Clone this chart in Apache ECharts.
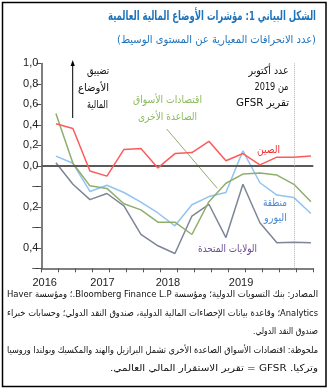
<!DOCTYPE html>
<html>
<head>
<meta charset="utf-8">
<script src="https://cdn.jsdelivr.net/npm/echarts@6/dist/echarts.min.js"></script>
<style>
html,body{margin:0;padding:0;background:#fff;}
#c{width:329px;height:389px;}
</style>
</head>
<body>
<div id="c"></div>
<script>
// Quarterly periods
const periods = ['2016Q1','2016Q2','2016Q3','2016Q4','2017Q1','2017Q2','2017Q3','2017Q4',
                 '2018Q1','2018Q2','2018Q3','2018Q4','2019Q1','2019Q2','2019Q3','2019Q4'];
// Series values (standard deviations from median)
const china    = [0.41, 0.365, -0.05, -0.10, 0.16, 0.17, -0.02, 0.12, 0.13, 0.24, 0.05, 0.12, 0.01, 0.085, 0.085, 0.095];
const otherEM  = [0.51, 0.025, -0.195, -0.22, -0.37, -0.43, -0.55, -0.55, -0.67, -0.35, -0.17, -0.08, -0.07, -0.09, -0.18, -0.35];
const euroArea = [0.095, 0.025, -0.25, -0.19, -0.26, -0.355, -0.46, -0.585, -0.38, -0.30, -0.26, 0.147, -0.165, -0.285, -0.31, -0.465];
const us       = [0.03, -0.18, -0.33, -0.27, -0.39, -0.67, -0.78, -0.855, -0.49, -0.375, -0.70, -0.18, -0.555, -0.75, -0.745, -0.75];
// Axis tick labels (as printed in the source, bottom to top)
const yTickLabels = ['–','0,4','–','0,2','–','0,0','0,2','0,4','0,6','0,8','1,0'];
const yearLabels = ['2016','2017','2018','2019'];
const gfsrPeriod = '2019Q3';

const ARFONT = '"DejaVu Sans", sans-serif';
const NUMFONT = '"Liberation Sans", Arial, sans-serif';
const OFFSET = 0.86;
const xOf = i => i + OFFSET;
const mk = arr => arr.map((v, i) => [xOf(i), v]);
const yearPos = {20: 0, 360: 1, 745: 2, 1175: 3};

const rtl = s => '\u202B' + s + '\u202C';
const mctx = document.createElement('canvas').getContext('2d');

function txt(x, y, text, color, size, align, weight, targetW) {
  const t = rtl(text);
  const font = (weight || 'normal') + ' ' + size + 'px ' + ARFONT;
  let sx = 1;
  if (targetW) {
    mctx.font = font;
    const w = mctx.measureText(t).width;
    if (w > 0) sx = targetW / w;
  }
  return {type: 'text', x: x, y: y, scaleX: sx, scaleY: 1, silent: true,
    style: {text: t, fill: color, font: font, align: align || 'center', verticalAlign: 'middle'}};
}

const chart = echarts.init(document.getElementById('c'), null, {renderer: 'canvas'});

const option = {
  animation: false,
  backgroundColor: '#ffffff',
  grid: {left: 41.3, right: 15.7, top: 63.4, bottom: 120.7, outerBoundsMode: 'none', containLabel: false},
  xAxis: [{
    type: 'value', min: 0, max: 16, interval: 1,
    axisLine: {show: true, onZero: false, lineStyle: {color: '#555', width: 1.5}},
    axisTick: {show: true, length: 4, lineStyle: {color: '#555', width: 1}},
    axisLabel: {show: false},
    splitLine: {show: false}
  }, {
    type: 'value', min: 0, max: 16, interval: 0.05, position: 'bottom',
    axisLine: {show: false, onZero: false}, axisTick: {show: false}, splitLine: {show: false},
    axisLabel: {
      show: true, margin: 9, color: '#222', fontSize: 11, fontFamily: NUMFONT,
      formatter: v => { const k = Math.round(v * 100); return (k in yearPos) ? yearLabels[yearPos[k]] : ''; }
    }
  }],
  yAxis: {
    type: 'value', min: -1, max: 1, interval: 0.2,
    axisLine: {show: true, onZero: false, lineStyle: {color: '#555', width: 1.5}},
    axisTick: {show: true, length: 5, lineStyle: {color: '#555', width: 1}},
    splitLine: {show: false},
    axisLabel: {
      margin: 3, color: '#222', fontSize: 11, fontFamily: NUMFONT,
      formatter: v => yTickLabels[Math.round(v * 5) + 5]
    }
  },
  series: [
    {name: 'الولايات المتحدة', type: 'line', data: mk(us), symbol: 'none',
     lineStyle: {color: '#7d8597', width: 1.5}, z: 2},
    {name: 'منطقة اليورو', type: 'line', data: mk(euroArea), symbol: 'none',
     lineStyle: {color: '#93c3f0', width: 1.5}, z: 3},
    {name: 'اقتصادات الأسواق الصاعدة الأخرى', type: 'line', data: mk(otherEM), symbol: 'none',
     lineStyle: {color: '#8fae6c', width: 1.5}, z: 4},
    {name: 'الصين', type: 'line', data: mk(china), symbol: 'none',
     lineStyle: {color: '#ff5a5a', width: 1.5}, z: 5,
     markLine: {silent: true, symbol: 'none', label: {show: false}, animation: false,
       data: [
         {yAxis: 0, lineStyle: {color: '#5a5a5a', width: 2, type: 'solid'}},
         {xAxis: xOf(periods.indexOf(gfsrPeriod)), lineStyle: {color: '#b0b0b0', width: 1, type: 'dotted'}}
       ]}}
  ],
  graphic: [
    {type: 'rect', shape: {x: 2.5, y: 2.5, width: 323.5, height: 384}, silent: true,
     style: {fill: 'none', stroke: '#000', lineWidth: 1.5}},
    txt(316, 17, 'الشكل البياني 1: مؤشرات الأوضاع المالية العالمية', '#1f73bb', 13, 'right', 'bold', 208),
    txt(316, 40, '(عدد الانحرافات المعيارية عن المستوى الوسيط)', '#1f73bb', 11, 'right', 'normal', 199),
    // arrow annotation
    {type: 'line', shape: {x1: 72.7, y1: 118, x2: 72.7, y2: 64}, silent: true,
     style: {stroke: '#000', lineWidth: 1}},
    {type: 'polygon', shape: {points: [[70.6, 66], [72.7, 60], [74.8, 66]]}, silent: true,
     style: {fill: '#000'}},
    txt(109, 71, 'تضييق', '#111', 10.5, 'right', 'normal', 22),
    txt(109, 88, 'الأوضاع', '#111', 10.5, 'right', 'normal', 31),
    txt(108, 105, 'المالية', '#111', 10.5, 'right', 'normal', 21),
    // GFSR note
    txt(288.5, 71, 'عدد أكتوبر', '#111', 10.5, 'right', 'normal', 40),
    txt(288.5, 87, 'من 2019', '#111', 10.5, 'right', 'normal', 34),
    txt(289, 103, 'تقرير GFSR', '#111', 10.5, 'right', 'normal', 53),
    // series labels
    txt(167.5, 100, 'اقتصادات الأسواق', '#8dba5f', 10.5, 'center', 'normal', 69),
    txt(167.5, 117, 'الصاعدة الأخرى', '#8dba5f', 10.5, 'center', 'normal', 59),
    {type: 'line', shape: {x1: 166.7, y1: 129, x2: 217.3, y2: 188.3}, silent: true,
     style: {stroke: '#8fae6c', lineWidth: 1}},
    txt(268.5, 150, 'الصين', '#ee3030', 10.5, 'center', 'normal', 23),
    txt(275, 203, 'منطقة', '#4a8ad4', 10.5, 'center', 'normal', 24),
    txt(275.5, 218, 'اليورو', '#4a8ad4', 10.5, 'center', 'normal', 23),
    txt(227.5, 249, 'الولايات المتحدة', '#6b4c93', 10.5, 'center', 'normal', 59),
    // footer
    txt(318, 295, 'المصادر: بنك التسويات الدولية؛ ومؤسسة Bloomberg Finance L.P.؛ ومؤسسة Haver', '#111', 9.5, 'right', 'normal', 311),
    txt(318, 313.5, 'Analytics؛ وقاعدة بيانات الإحصاءات المالية الدولية، صندوق النقد الدولي؛ وحسابات خبراء', '#111', 9.5, 'right', 'normal', 311),
    txt(318, 332, 'صندوق النقد الدولي.', '#111', 9.5, 'right', 'normal', 65),
    txt(318, 350.5, 'ملحوظة: اقتصادات الأسواق الصاعدة الأخرى تشمل البرازيل والهند والمكسيك وبولندا وروسيا', '#111', 9.5, 'right', 'normal', 311),
    txt(318, 368.5, 'وتركيا. GFSR = تقرير الاستقرار المالي العالمي.', '#111', 9.5, 'right', 'normal', 208)
  ]
};
chart.setOption(option);
</script>
</body>
</html>
